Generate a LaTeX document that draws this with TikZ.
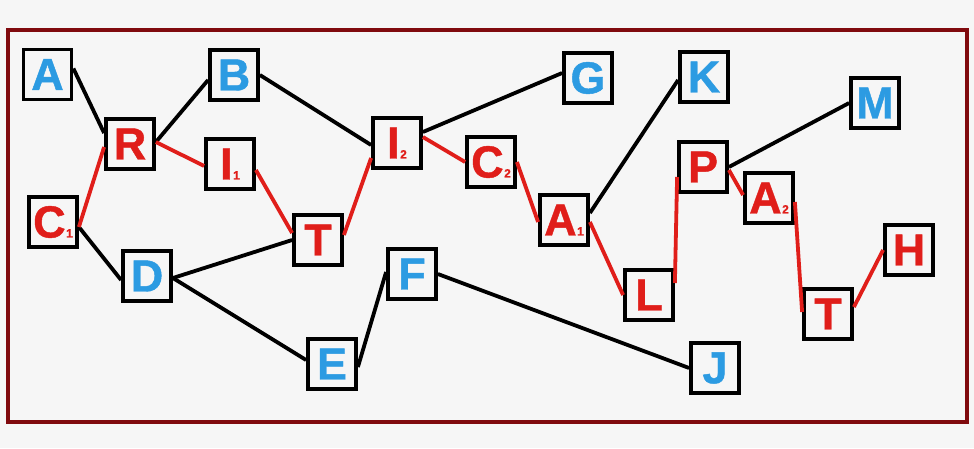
\documentclass[tikz,border=0pt]{standalone}
\usepackage{fontspec}
\setmainfont{Liberation Sans}
\newfontfamily\heavy{Liberation Sans Bold}[FakeBold=1.0]
\definecolor{bg}{RGB}{246,246,246}
\definecolor{frame}{RGB}{128,10,14}
\definecolor{lblue}{RGB}{44,155,226}
\definecolor{lred}{RGB}{224,30,26}
\newcommand{\subn}[1]{\kern0.5pt{\fontsize{12}{12}\selectfont #1}}
\begin{document}
\begin{tikzpicture}[x=1pt,y=-1pt,
  box/.style={draw=black,line width=3.8pt,fill=bg,minimum width=48pt,minimum height=50pt,
    inner sep=0pt,font=\fontsize{45}{45}\heavy},
  bl/.style={box,text=lblue},
  rd/.style={box,text=lred},
  blk/.style={draw=black,line width=3.8pt},
  red/.style={draw=lred,line width=3.8pt}]
\fill[bg] (0,0) rectangle (974,448);
\useasboundingbox (0,0) rectangle (974,448);
\draw[frame,line width=4pt] (8,30) rectangle (967,422);
% nodes
\node[bl] (a) at (47.5,74.5) {A};
\node[bl] (b) at (234,75) {B};
\node[rd] (r) at (130,144) {R};
\node[rd] (i1) at (230,164) {I\subn{1}};
\node[rd] (c1) at (53,222) {C\subn{1}};
\node[rd] (t1) at (318,240) {T};
\node[rd] (i2) at (397,143) {I\subn{2}};
\node[rd] (c2) at (491,162) {C\subn{2}};
\node[rd] (a1) at (564,220) {A\subn{1}};
\node[bl] (g) at (588,78) {G};
\node[bl] (k) at (704,77) {K};
\node[bl] (m) at (875,103) {M};
\node[rd] (p) at (703,167) {P};
\node[rd] (a2) at (769,198) {A\subn{2}};
\node[rd] (l) at (649,295) {L};
\node[rd] (t2) at (828,314) {T};
\node[rd] (h) at (909,250) {H};
\node[bl] (d) at (147,276) {D};
\node[bl] (e) at (332,364) {E};
\node[bl] (f) at (412,274) {F};
\node[bl] (j) at (715,368) {J};
% black edges
\draw[blk] ([yshift=6pt]a.east) -- ([yshift=11pt]r.west);
\draw[blk] ([yshift=2pt]r.east) -- ([yshift=-5pt]b.west);
\draw[blk] (b.east) -- ([yshift=-2pt]i2.west);
\draw[blk] ([yshift=11pt]i2.east) -- ([yshift=5pt]g.west);
\draw[blk] ([yshift=-5pt]c1.east) -- ([yshift=-4pt]d.west);
\draw[blk] ([yshift=-2pt]d.east) -- (t1.west);
\draw[blk] ([yshift=-2pt]d.east) -- ([yshift=4pt]e.west);
\draw[blk] ([yshift=-3pt]e.east) -- ([yshift=2pt]f.west);
\draw[blk] (f.east) -- (j.west);
\draw[blk] ([yshift=7pt]a1.east) -- ([yshift=-3pt]k.west);
\draw[blk] (p.east) -- (m.west);
% red edges
\draw[red] ([yshift=-5pt]c1.east) -- ([yshift=-3pt]r.west);
\draw[red] ([yshift=2pt]r.east) -- ([yshift=-2pt]i1.west);
\draw[red] ([yshift=-6pt]i1.east) -- ([yshift=7pt]t1.west);
\draw[red] ([yshift=5pt]t1.east) -- ([yshift=-15pt]i2.west);
\draw[red] ([yshift=6pt]i2.east) -- (c2.west);
\draw[red] (c2.east) -- ([yshift=-2pt]a1.west);
\draw[red] ([yshift=-2pt]a1.east) -- (l.west);
\draw[red] ([yshift=12pt]l.east) -- ([yshift=-10pt]p.west);
\draw[red] ([yshift=-3pt]p.east) -- ([yshift=3pt]a2.west);
\draw[red] ([yshift=-4pt]a2.east) -- ([yshift=2pt]t2.west);
\draw[red] ([yshift=7pt]t2.east) -- (h.west);
\end{tikzpicture}
\end{document}
